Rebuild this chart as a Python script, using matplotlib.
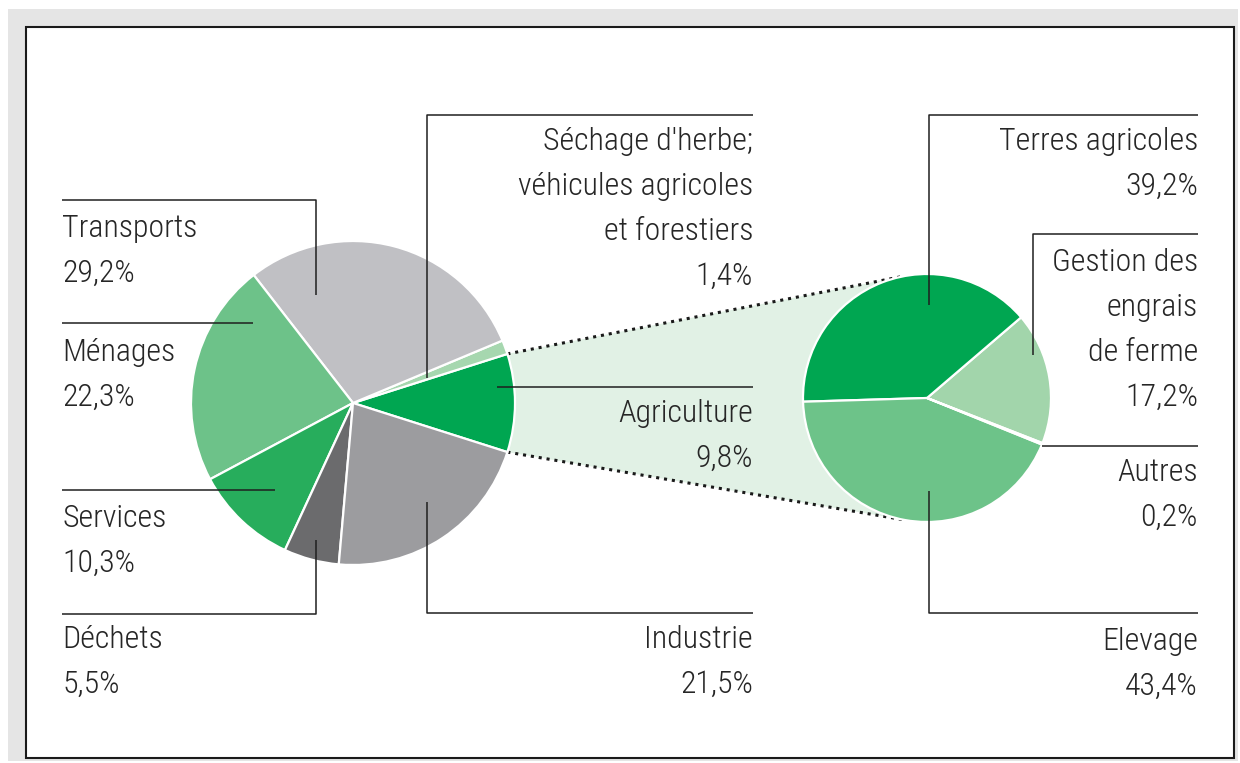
import numpy as np
import matplotlib
matplotlib.use('Agg')
import matplotlib.pyplot as plt
from matplotlib import font_manager
from matplotlib.font_manager import FontProperties
from matplotlib.patches import Rectangle, Polygon

# Emissions par secteur (%), dans l'ordre des parts autour du camembert
secteurs = ['Agriculture', "Séchage d'herbe;\nvéhicules agricoles\net forestiers",
            'Transports', 'Ménages', 'Services', 'Déchets', 'Industrie']
parts = [9.8, 1.4, 29.2, 22.3, 10.3, 5.5, 21.5]
couleurs = ['#00a651', '#a6d7af', '#c0c0c4', '#6dc289', '#27ad5c', '#6b6b6d', '#9c9c9f']

# Détail de l'agriculture (%)
sous_secteurs = ['Gestion des\nengrais\nde ferme', 'Terres agricoles', 'Elevage', 'Autres']
sous_parts = [17.2, 39.2, 43.4, 0.2]
sous_couleurs = ['#a2d5ab', '#00a651', '#6dc389', '#6dc389']

W, H = 1240, 763


def choisir_police():
    # une sans-serif étroite, de graisse légère si possible, sinon DejaVu Sans
    fl = [f for f in font_manager.fontManager.ttflist if f.style == 'normal']
    def poids(f):
        return f.weight if isinstance(f.weight, int) else 400
    for cle in ('Liberation Sans Narrow', 'Roboto Condensed', 'Open Sans Condensed',
                'Noto Sans Condensed'):
        for p in (300, 400):
            for f in fl:
                if f.name.startswith(cle) and poids(f) == p:
                    return FontProperties(fname=f.fname)
    for nom in ('Noto Sans', 'Open Sans', 'DejaVu Sans', 'Roboto'):
        for f in fl:
            if f.name == nom and poids(f) == 400 and f.stretch in ('condensed', 'semi-condensed'):
                return FontProperties(fname=f.fname)
    return FontProperties(family='DejaVu Sans')


police = choisir_police()


def Y(y):
    # coordonnées écran (origine en haut) -> coordonnées de l'axe
    return H - y


def pct(v):
    return f"{v:.1f}".replace('.', ',') + '%'


fig = plt.figure(figsize=(W / 100, H / 100), dpi=100)
ax = fig.add_axes([0, 0, 1, 1])

# taille de texte réglée sur la largeur d'une étiquette
rd = fig.canvas.get_renderer()
essai = fig.text(0, 0, 'Terres agricoles', fontproperties=police, fontsize=20)
larg = essai.get_window_extent(rd).width
essai.remove()
taille = min(20 * 198 / larg, 24)

# cadre
ax.add_patch(Rectangle((8, Y(761)), 1230, 752, facecolor='#e5e5e5', edgecolor='none', zorder=0))
ax.add_patch(Rectangle((26, Y(758)), 1208, 731, facecolor='white', edgecolor='#1a1a1a',
                       lw=1.5, zorder=1))

c1, r1 = (353, Y(403)), 162
c2, r2 = (927, Y(398)), 124

debut1 = -parts[0] * 3.6 / 2
debut2 = 40.6 - sous_parts[0] * 3.6

# bande de liaison entre la part agricole et le détail
a = np.deg2rad(parts[0] * 3.6 / 2)
b = np.deg2rad(101)
p_haut_g = (c1[0] + r1 * np.cos(a), c1[1] + r1 * np.sin(a))
p_bas_g = (c1[0] + r1 * np.cos(a), c1[1] - r1 * np.sin(a))
p_haut_d = (c2[0] + r2 * np.cos(b), c2[1] + r2 * np.sin(b))
p_bas_d = (c2[0] + r2 * np.cos(b), c2[1] - r2 * np.sin(b))
ax.add_patch(Polygon([p_haut_g, p_haut_d, p_bas_d, p_bas_g], closed=True,
                     facecolor='#e1f1e5', edgecolor='none', zorder=2))
for p, q in [(p_haut_g, p_haut_d), (p_bas_g, p_bas_d)]:
    ax.plot([p[0], q[0]], [p[1], q[1]], color='#1a1a1a', lw=2.2,
            linestyle=(0, (1, 1.6)), zorder=3)

wp = dict(edgecolor='white', linewidth=1.6)
w1, _ = ax.pie(parts, colors=couleurs, startangle=debut1, center=c1, radius=r1,
               wedgeprops=wp)
w2, _ = ax.pie(sous_parts, colors=sous_couleurs, startangle=debut2, center=c2, radius=r2,
               wedgeprops=wp)
for w in list(w1) + list(w2):
    w.set_zorder(4)

# étiquettes : (x, ligne de base, alignement, tracé du trait de rappel)
etiquettes = {
    'Transports': (62, 237, 'left', [(62, 200), (316, 200), (316, 295)]),
    'Ménages': (62, 361, 'left', [(62, 323), (253, 323)]),
    'Services': (62, 527, 'left', [(62, 490), (275, 490)]),
    'Déchets': (62, 648, 'left', [(62, 614), (316, 614), (316, 540)]),
    secteurs[1]: (753, 150, 'right', [(753, 115), (427, 115), (427, 378)]),
    'Agriculture': (753, 422, 'right', [(753, 387), (497, 387)]),
    'Industrie': (753, 648, 'right', [(753, 613), (427, 613), (427, 502)]),
    'Terres agricoles': (1198, 150, 'right', [(1198, 115), (929, 115), (929, 305)]),
    sous_secteurs[0]: (1198, 271, 'right', [(1198, 234), (1033, 234), (1033, 355)]),
    'Autres': (1198, 481, 'right', [(1198, 446), (1042, 446)]),
    'Elevage': (1198, 650, 'right', [(1198, 613), (929, 613), (929, 491)]),
}

pas = 45
for nom, val in list(zip(secteurs, parts)) + list(zip(sous_secteurs, sous_parts)):
    x, y0, ha, trait = etiquettes[nom]
    lignes = nom.split('\n') + [pct(val)]
    for i, l in enumerate(lignes):
        ax.text(x, Y(y0 + i * pas), l, ha=ha, va='baseline', fontsize=taille,
                fontproperties=police, color='#262626', zorder=6)
    xs, ys = zip(*trait)
    ax.plot(xs, [Y(v) for v in ys], color='#1f1f1f', lw=1.1, zorder=5,
            solid_capstyle='butt')

ax.set_xlim(0, W)
ax.set_ylim(0, H)
ax.set_aspect('equal')
ax.axis('off')
fig.savefig('out.png', dpi=100, facecolor='white')
